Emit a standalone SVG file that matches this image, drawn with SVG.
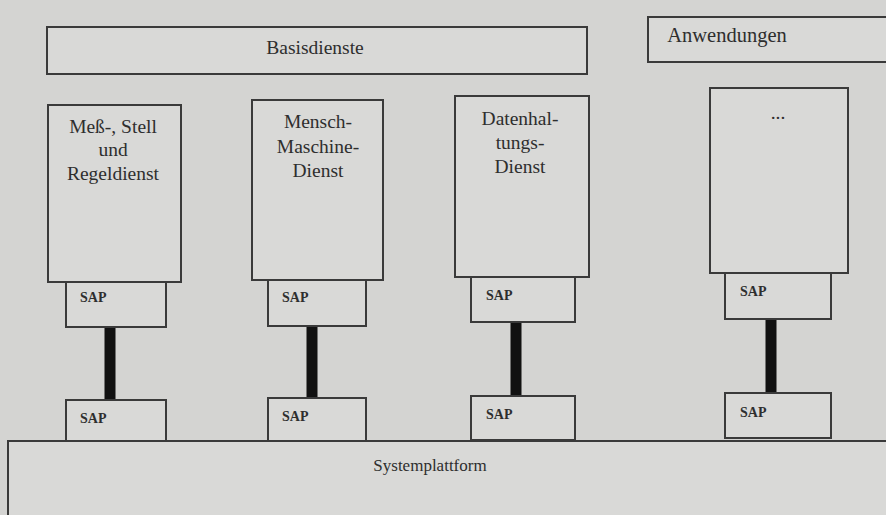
<svg xmlns="http://www.w3.org/2000/svg" width="886" height="515" viewBox="0 0 886 515">
<style>
.bx{fill:#d9d9d7;stroke:#3a3a3a;stroke-width:2}
.t{font-family:"Liberation Serif",serif;font-size:19.5px;fill:#2e2e2e;text-anchor:middle}
.s{font-family:"Liberation Serif",serif;font-size:14px;font-weight:bold;fill:#2e2e2e}
.c{stroke:#111;stroke-width:11}
</style>
<rect width="886" height="515" fill="#d4d4d2"/>
<g id="basisdienste"><rect class="bx" x="47" y="27" width="540" height="47"/><text class="t" x="315" y="54">Basisdienste</text></g>
<g id="anwendungen"><rect class="bx" x="648" y="17" width="245" height="45"/><text class="t" x="727" y="42" style="font-size:20.5px">Anwendungen</text></g>
<g id="connectors">
<line class="c" x1="110" y1="326" x2="110" y2="401"/>
<line class="c" x1="312" y1="325" x2="312" y2="399"/>
<line class="c" x1="516" y1="321" x2="516" y2="397"/>
<line class="c" x1="771" y1="318" x2="771" y2="394"/>
</g>
<g id="systemplattform"><rect class="bx" x="8" y="441" width="890" height="80"/><text class="t" x="430" y="471" style="font-size:17px">Systemplattform</text></g>
<g id="mess"><rect class="bx" x="48" y="105" width="133" height="177"/><text class="t" x="113" y="133">Meß-, Stell</text><text class="t" x="113" y="156">und</text><text class="t" x="113" y="180">Regeldienst</text></g>
<g id="mess-sap1"><rect class="bx" x="66" y="282" width="100" height="45"/><text class="s" x="80" y="302">SAP</text></g>
<g id="mess-sap2"><rect class="bx" x="66" y="400" width="100" height="41"/><text class="s" x="80" y="423">SAP</text></g>
<g id="mensch"><rect class="bx" x="252" y="100" width="131" height="180"/><text class="t" x="318" y="128">Mensch-</text><text class="t" x="318" y="153">Maschine-</text><text class="t" x="318" y="177">Dienst</text></g>
<g id="mensch-sap1"><rect class="bx" x="268" y="280" width="98" height="46"/><text class="s" x="282" y="302">SAP</text></g>
<g id="mensch-sap2"><rect class="bx" x="268" y="398" width="98" height="43"/><text class="s" x="282" y="421">SAP</text></g>
<g id="daten"><rect class="bx" x="455" y="96" width="134" height="181"/><text class="t" x="520" y="125">Datenhal-</text><text class="t" x="520" y="149">tungs-</text><text class="t" x="520" y="173">Dienst</text></g>
<g id="daten-sap1"><rect class="bx" x="471" y="277" width="104" height="45"/><text class="s" x="486" y="300">SAP</text></g>
<g id="daten-sap2"><rect class="bx" x="471" y="396" width="104" height="44"/><text class="s" x="486" y="419">SAP</text></g>
<g id="dots"><rect class="bx" x="710" y="88" width="138" height="185"/><text class="t" x="778" y="119">...</text></g>
<g id="dots-sap1"><rect class="bx" x="725" y="273" width="106" height="46"/><text class="s" x="740" y="296">SAP</text></g>
<g id="dots-sap2"><rect class="bx" x="725" y="393" width="106" height="45"/><text class="s" x="740" y="417">SAP</text></g>
</svg>
